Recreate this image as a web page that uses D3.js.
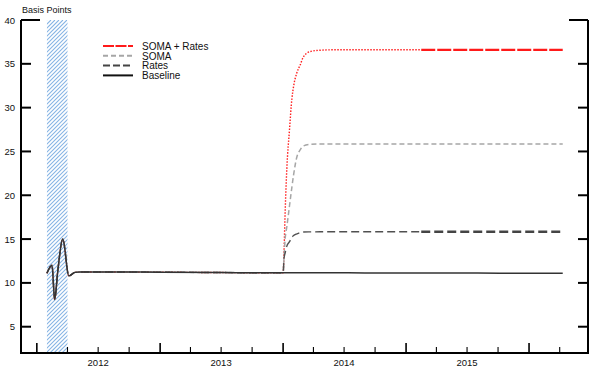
<!DOCTYPE html>
<html>
<head>
<meta charset="utf-8">
<script src="https://cdnjs.cloudflare.com/ajax/libs/d3/7.8.5/d3.min.js"></script>
<style>
    body { margin: 0; background: #fff; }
    text { font-family: Arial, "Liberation Sans", sans-serif; fill: #111; }
</style>
</head>
<body>
<div id="chart"></div>
<script>
// Chart data
var dates = [
    "2012-01-31", "2012-02-15", "2012-02-23", "2012-03-03", "2012-03-18", "2012-04-05",
    "2012-04-23", "2012-05-08", "2012-07-01", "2013-01-01", "2013-07-01",
    "2014-01-01", "2014-01-04", "2014-01-07", "2014-01-12", "2014-01-20", "2014-01-27",
    "2014-02-01", "2014-02-11", "2014-02-21", "2014-03-01", "2014-03-22", "2014-04-21",
    "2014-05-31", "2014-09-01", "2015-02-15", "2015-08-01", "2016-01-01", "2016-04-10"
];

// common history before the scenarios split
var sharedEarly = [11.1, 12.0, 8.1, 11.3, 15.0, 10.8, 11.2, 11.25, 11.25, 11.22, 11.18];

var baselineLate = [11.15, 11.15, 11.15, 11.15, 11.15, 11.15, 11.15, 11.15, 11.15, 11.15, 11.15, 11.15, 11.15,
    11.14, 11.13, 11.12, 11.1, 11.1];
var ratesLate = [11.15, 12.9, 13.4, 14.2, 14.7, 15.2, 15.4, 15.6, 15.75, 15.8, 15.82, 15.83, 15.83,
    15.83, 15.83, 15.83, 15.83, 15.83];
var somaLate = [11.15, 13.1, 15.0, 16.4, 18.8, 20.9, 22.3, 24.4, 25.2, 25.6, 25.8, 25.85, 25.85,
    25.85, 25.85, 25.85, 25.85, 25.85];
var somaRatesLate = [11.15, 14.0, 18.0, 23.0, 27.5, 31.0, 32.4, 34.0, 34.9, 35.7, 36.4, 36.55, 36.6,
    36.6, 36.6, 36.6, 36.6, 36.6];

var yTicks = [5, 10, 15, 20, 25, 30, 35, 40];
var yearLabels = ["2012", "2013", "2014", "2015"];
var shadeRange = ["2012-01-31", "2012-04-01"];
var styleSplit = "2015-02-15";

// Define svg dimensions
var svgWidth = 600;
var svgHeight = 371;

var parseDate = d3.timeParse("%Y-%m-%d");

var svg = d3.select("#chart")
    .append("svg")
    .attr("width", svgWidth)
    .attr("height", svgHeight);

// Scales
var xScale = d3.scaleTime()
    .domain([parseDate("2011-11-15"), parseDate("2016-06-24")])
    .range([21, 588]);

var yScale = d3.scaleLinear()
    .domain([2, 40])
    .range([353, 20]);

function makeSeries(late) {
    var vals = sharedEarly.concat(late);
    return dates.map(function (d, i) {
        return { date: parseDate(d), value: vals[i] };
    });
}

var baseline = makeSeries(baselineLate);
var rates = makeSeries(ratesLate);
var soma = makeSeries(somaLate);
var somaRates = makeSeries(somaRatesLate);

var split = parseDate(styleSplit);

// Hatched shading: diagonal strokes clipped to the shaded period
var sx0 = xScale(parseDate(shadeRange[0]));
var sx1 = xScale(parseDate(shadeRange[1]));
var sy0 = yScale(40), sy1 = yScale(2);

svg.append("defs").append("clipPath")
    .attr("id", "shadeClip")
    .append("rect")
    .attr("x", sx0).attr("y", sy0)
    .attr("width", sx1 - sx0).attr("height", sy1 - sy0);

var hatch = svg.append("g").attr("clip-path", "url(#shadeClip)");
var hatchH = sy1 - sy0;
for (var k = sx0 - hatchH; k < sx1; k += 4) {
    hatch.append("line")
        .attr("x1", k).attr("y1", sy1)
        .attr("x2", k + hatchH).attr("y2", sy0)
        .attr("stroke", "#86b4e4")
        .attr("stroke-width", 1.1);
}

// Lines
var line = d3.line()
    .curve(d3.curveMonotoneX)
    .x(d => xScale(d.date))
    .y(d => yScale(d.value));

function drawLine(data, color, width, dash) {
    svg.append("path")
        .datum(data)
        .attr("fill", "none")
        .attr("stroke", color)
        .attr("stroke-width", width)
        .attr("stroke-dasharray", dash)
        .attr("d", line);
}

var before = d => d.date <= split;
var after = d => d.date >= split;

drawLine(somaRates.filter(before), "#ff2020", 1.4, "1.5,1.5");
drawLine(somaRates.filter(after), "#ff1a1a", 2.2, "14,2");
drawLine(soma, "#a6a6a6", 1.5, "5,3");
drawLine(rates.filter(before), "#505050", 1.4, "8,4");
drawLine(rates.filter(after), "#444444", 2.5, "9,4");
drawLine(baseline, "#333333", 1.5, null);

// Axis frame
var x0 = xScale.range()[0], x1 = xScale.range()[1];
var yTop = yScale(40), yBot = yScale(2);

svg.append("path")
    .attr("d", `M${x0},${yTop}V${yBot}H${x1}V${yTop}`)
    .attr("fill", "none")
    .attr("stroke", "#000")
    .attr("stroke-width", 2);

// Y ticks on both sides, pointing inward
yTicks.forEach(function (t) {
    var len = t === 40 ? 19 : 10;
    svg.append("line")
        .attr("x1", x0).attr("x2", x0 + len)
        .attr("y1", yScale(t)).attr("y2", yScale(t))
        .attr("stroke", "#000").attr("stroke-width", 2);
    svg.append("line")
        .attr("x1", x1).attr("x2", x1 - len)
        .attr("y1", yScale(t)).attr("y2", yScale(t))
        .attr("stroke", "#000").attr("stroke-width", 2);
    svg.append("text")
        .attr("x", 15)
        .attr("y", yScale(t) + 3.5)
        .attr("text-anchor", "end")
        .attr("font-size", 9.5)
        .text(t);
});

// X ticks: quarters, taller at year starts
var quarters = d3.timeMonth.every(3).range(xScale.domain()[0], xScale.domain()[1]);
quarters.forEach(function (q) {
    var isYear = q.getMonth() === 0;
    svg.append("line")
        .attr("x1", xScale(q)).attr("x2", xScale(q))
        .attr("y1", yBot).attr("y2", yBot - (isYear ? 10 : 6))
        .attr("stroke", "#000")
        .attr("stroke-width", isYear ? 1.6 : 1.1);
});

yearLabels.forEach(function (y) {
    svg.append("text")
        .attr("x", xScale(parseDate(y + "-07-01")))
        .attr("y", 366)
        .attr("text-anchor", "middle")
        .attr("font-size", 9.5)
        .text(y);
});

svg.append("text")
    .attr("x", 22)
    .attr("y", 13)
    .attr("font-size", 9)
    .text("Basis Points");

// Legend
var legendItems = [
    { name: "SOMA + Rates", color: "#ff1a1a", width: 2, dash: "11,1.5" },
    { name: "SOMA", color: "#a6a6a6", width: 2, dash: "5,3" },
    { name: "Rates", color: "#444444", width: 2, dash: "7,3" },
    { name: "Baseline", color: "#111111", width: 2, dash: null }
];

var legend = svg.append("g")
    .attr("transform", "translate(103, 46)");

legendItems.forEach(function (item, i) {
    legend.append("line")
        .attr("x1", 0).attr("x2", 30)
        .attr("y1", i * 9.8).attr("y2", i * 9.8)
        .attr("stroke", item.color)
        .attr("stroke-width", item.width)
        .attr("stroke-dasharray", item.dash);
    legend.append("text")
        .attr("x", 39)
        .attr("y", i * 9.8 + 3.8)
        .attr("font-size", 10)
        .text(item.name);
});
</script>
</body>
</html>
